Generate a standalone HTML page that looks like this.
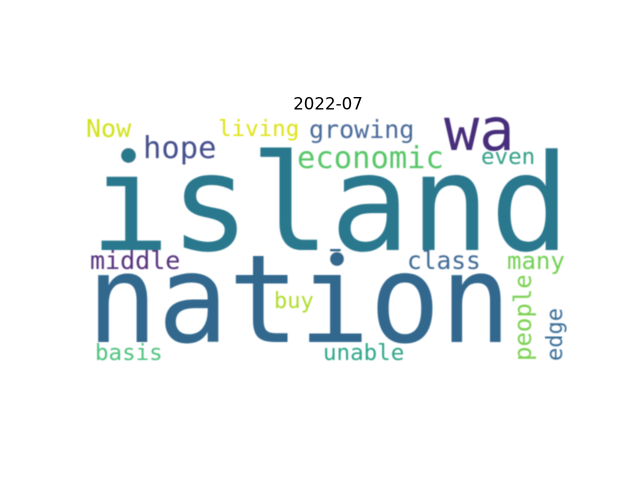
<!DOCTYPE html>
<html lang="en">
<head>
<meta charset="utf-8">
<title>2022-07 word cloud</title>
<style>
  html, body { margin: 0; padding: 0; background: #fff; }
  svg { display: block; }
  .w { font-family: "DejaVu Sans Mono", "Liberation Mono", monospace; }
</style>
</head>
<body>
<svg width="640" height="480" viewBox="0 0 640 480" xmlns="http://www.w3.org/2000/svg">
  <defs>
    <filter id="soft" x="0" y="0" width="100%" height="100%" filterUnits="userSpaceOnUse" primitiveUnits="userSpaceOnUse">
      <feGaussianBlur stdDeviation="0.4"/>
    </filter>
  </defs>
  <rect width="640" height="480" fill="#ffffff"/>
  <text x="328" y="109.500" text-anchor="middle" font-family="'DejaVu Sans', sans-serif" font-size="16.67" fill="#000">2022-07</text>
  <g filter="url(#soft)">
    <text class="w" x="90" y="250" font-size="134" textLength="480" lengthAdjust="spacingAndGlyphs" fill="#2c788e">island</text>
    <rect x="118" y="146" width="22" height="19" fill="#ffffff"/>
    <circle cx="128.500" cy="155.500" r="7.500" fill="#2c788e"/>
    <text class="w" x="87" y="342" font-size="122" textLength="424" lengthAdjust="spacingAndGlyphs" fill="#30688e">nation</text>
    <rect x="327" y="251.500" width="24" height="17" fill="#ffffff"/>
    <circle cx="337" cy="259" r="7" fill="#30688e"/>
    <text class="w" x="444" y="150" font-size="58.500" fill="#472d7b">wa</text>
    <text class="w" x="143" y="158" font-size="30.500" fill="#45508c">hope</text>
    <text class="w" x="297" y="168" font-size="30.500" fill="#56c667">economic</text>
    <text class="w" x="309" y="138" font-size="25" fill="#4a6a9a">growing</text>
    <text class="w" x="218" y="136" font-size="22.500" fill="#dfe318">living</text>
    <text class="w" x="86" y="137" font-size="25" fill="#d2e21b">Now</text>
    <text class="w" x="481" y="164" font-size="22.500" fill="#35a08a">even</text>
    <text class="w" x="90" y="269" font-size="25" fill="#55307e">middle</text>
    <text class="w" x="407" y="269" font-size="24.500" fill="#3f6a95">class</text>
    <text class="w" x="507" y="269" font-size="24" fill="#73d055">many</text>
    <text class="w" x="274" y="308" font-size="22" fill="#b0dd2f">buy</text>
    <text class="w" x="95" y="360" font-size="22.500" fill="#4fc37f">basis</text>
    <text class="w" x="323" y="360" font-size="22.500" fill="#2fa68a">unable</text>
    <text class="w" transform="translate(531 361) rotate(-90)" font-size="24" fill="#7ad151">people</text>
    <text class="w" transform="translate(562 361) rotate(-90)" font-size="22" fill="#3b6f9a">edge</text>
  </g>
</svg>
</body>
</html>
